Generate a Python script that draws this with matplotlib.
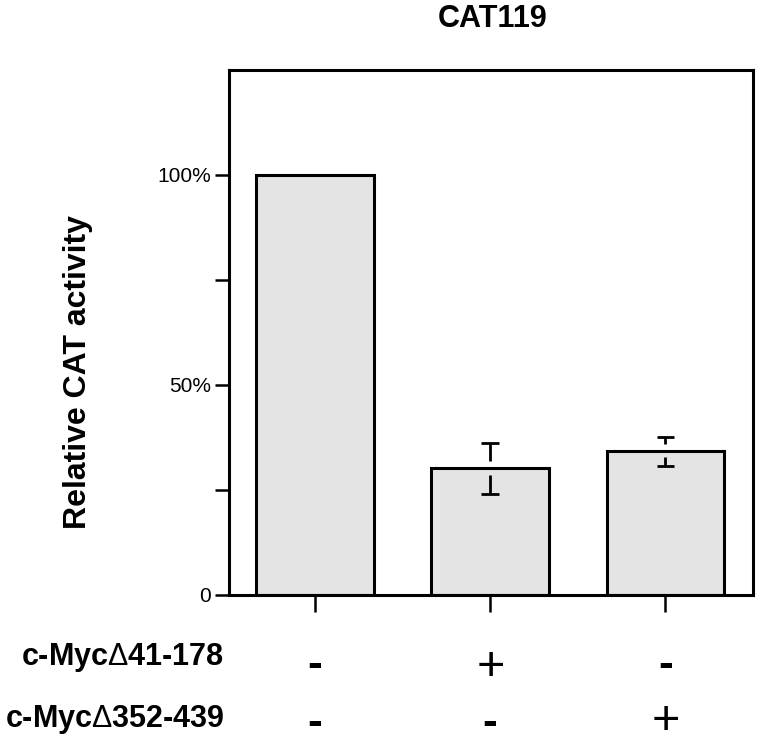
import matplotlib
matplotlib.use("Agg")
import matplotlib.pyplot as plt
import matplotlib.transforms as mtransforms
from matplotlib.ticker import FixedLocator

plt.rcParams['font.family'] = ['Liberation Sans', 'DejaVu Sans']
plt.rcParams['mathtext.fontset'] = 'custom'
plt.rcParams['mathtext.rm'] = 'Liberation Sans'
plt.rcParams['mathtext.it'] = 'Liberation Sans'
plt.rcParams['mathtext.bf'] = 'Liberation Sans:bold'

# ---- data ----
conditions = ["ctrl", "d41-178", "d352-439"]
values = [100.0, 30.2, 34.4]
err_hi = [0.0, 6.1, 3.1]
err_lo = [0.0, 6.2, 3.8]
row_labels = ["c-Myc$\\Delta$41-178", "c-Myc$\\Delta$352-439"]
row1 = ["-", "+", "-"]
row2 = ["-", "-", "+"]
ytick_vals = [0, 50, 100]
ytick_labels = ["0", "50%", "100%"]
yminor_vals = [25, 75]
title = "CAT119"
ylabel = "Relative CAT activity"

fig = plt.figure(figsize=(7.65, 7.43), dpi=100)
ax = fig.add_axes([0.2993, 0.1992, 0.685, 0.7066])

x = list(range(len(values)))
ax.bar(x, values, width=0.67, color="#e4e4e4", edgecolor="black", linewidth=2.2, zorder=2)

gap = 1.6
cw = 0.05
for xi, v, hi, lo in zip(x, values, err_hi, err_lo):
    if hi > 0:
        ax.vlines(xi, v + gap, v + hi, color="black", linewidth=2.0, zorder=3)
        ax.hlines(v + hi, xi - cw, xi + cw, color="black", linewidth=2.0, zorder=3)
    if lo > 0:
        ax.vlines(xi, v - lo, v - gap, color="black", linewidth=2.0, zorder=3)
        ax.hlines(v - lo, xi - cw, xi + cw, color="black", linewidth=2.0, zorder=3)

ax.set_xlim(-0.49, 2.5)
ax.set_ylim(0, 125)

for sp in ax.spines.values():
    sp.set_linewidth(2.2)

ax.set_xticks(x)
ax.set_xticklabels([])
ax.tick_params(axis="x", direction="out", length=12, width=1.8)
ax.set_yticks(ytick_vals)
ax.set_yticklabels(ytick_labels, fontsize=15)
ax.yaxis.set_minor_locator(FixedLocator(yminor_vals))
ax.tick_params(axis="y", which="both", direction="out", length=10, width=1.8, pad=3)

fig.text(0.644, 0.975, title, ha="center", va="center", fontsize=22, fontweight="bold")
fig.text(0.102, 0.499, ylabel, ha="center", va="center", rotation=90, fontsize=23, fontweight="bold")

trans = mtransforms.blended_transform_factory(ax.transData, fig.transFigure)
y_rows = [1 - 657 / 743, 1 - 720 / 743]
y_minus = [1 - 666 / 743, 1 - 723 / 743]
y_plus = [1 - 666 / 743, 1 - 719 / 743]
for lbl, yr in zip(row_labels, y_rows):
    fig.text(0.293, yr, lbl, ha="right", va="center", fontsize=22, fontweight="bold")
for row, ym, yp in zip([row1, row2], y_minus, y_plus):
    for xi, s in zip(x, row):
        if s == "+":
            ax.text(xi, yp, "$+$", transform=trans, ha="center", va="center", fontsize=35,
                    clip_on=False)
        else:
            ax.text(xi, ym, s, transform=trans, ha="center", va="center", fontsize=32,
                    fontweight="bold", clip_on=False)

fig.savefig("out.png", dpi=100)
